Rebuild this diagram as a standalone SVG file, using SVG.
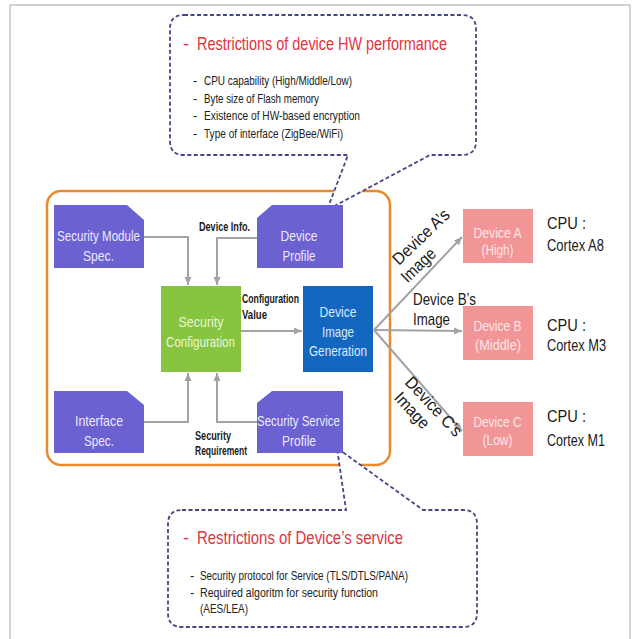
<svg xmlns="http://www.w3.org/2000/svg" width="633" height="639" viewBox="0 0 633 639">
  <style>
    text { font-family: "Liberation Sans", Arial, sans-serif; }
    .node-p { fill: #6b61d1; }
    .t-light { fill: #ebe9ff; font-size: 15px; text-anchor: middle; }
    .t-green { fill: #eaf6d8; font-size: 15px; text-anchor: middle; }
    .t-blue { fill: #dce9ff; font-size: 15px; text-anchor: middle; }
    .t-pink { fill: #fde6e6; font-size: 14px; text-anchor: middle; }
    .lbl { fill: #1a1a1a; font-size: 13px; font-weight: bold; }
    .cpu { fill: #1a1a1a; font-size: 17px; }
    .fan { fill: #1a1a1a; font-size: 17px; }
    .title { fill: #e0343f; font-size: 18px; }
    .bul { fill: #222222; font-size: 13px; }
    .conn { fill: none; stroke: #a3a3a3; stroke-width: 2; }
    .callout { fill: #ffffff; stroke: #45458a; stroke-width: 1.8; stroke-dasharray: 4 2.5; }
  </style>
  <defs>
    <marker id="arr" markerUnits="userSpaceOnUse" markerWidth="9" markerHeight="8" refX="8" refY="4" orient="auto">
      <path d="M0,0.5 L8,4 L0,7.5 Z" fill="#a3a3a3"/>
    </marker>
  </defs>

  <rect x="0" y="0" width="633" height="639" fill="#ffffff"/>
  <rect x="10" y="5" width="620" height="645" fill="none" stroke="#c4c4c4" stroke-width="1.5"/>

  <!-- Container -->
  <g id="container">
    <rect x="47" y="191" width="343" height="274" rx="14" ry="14" fill="#ffffff" stroke="#e8892c" stroke-width="2.5"/>
  </g>

  <!-- Connectors -->
  <g id="connectors">
    <path class="conn" d="M144,237 H188 V285" marker-end="url(#arr)"/>
    <path class="conn" d="M257,238 H217 V285" marker-end="url(#arr)"/>
    <path class="conn" d="M144,422 H188 V373" marker-end="url(#arr)"/>
    <path class="conn" d="M257,422 H217 V373" marker-end="url(#arr)"/>
    <path class="conn" d="M241,331 H302" marker-end="url(#arr)"/>
    <path class="conn" d="M374,330 L462,237" marker-end="url(#arr)"/>
    <path class="conn" d="M374,330 L462,331" marker-end="url(#arr)"/>
    <path class="conn" d="M374,330 L462,431" marker-end="url(#arr)"/>
  </g>

  <!-- Callouts -->
  <g id="callout-hw">
    <path class="callout" d="M184,15 H462 Q476,15 476,29 V141 Q476,155 462,155 H430 L327,210 L348,155 H184 Q170,155 170,141 V29 Q170,15 184,15 Z"/>
    <text class="title" x="183" y="50">-</text>
    <text class="title" x="197" y="50" textLength="250" lengthAdjust="spacingAndGlyphs">Restrictions of device HW  performance</text>
    <text class="bul" x="193" y="85">-</text>
    <text class="bul" x="204" y="85" textLength="148" lengthAdjust="spacingAndGlyphs">CPU capability (High/Middle/Low)</text>
    <text class="bul" x="193" y="102.5">-</text>
    <text class="bul" x="204" y="102.5" textLength="115" lengthAdjust="spacingAndGlyphs">Byte size of Flash memory</text>
    <text class="bul" x="193" y="120">-</text>
    <text class="bul" x="204" y="120" textLength="156" lengthAdjust="spacingAndGlyphs">Existence of HW-based encryption</text>
    <text class="bul" x="193" y="137.5">-</text>
    <text class="bul" x="204" y="137.5" textLength="139" lengthAdjust="spacingAndGlyphs">Type of interface (ZigBee/WiFi)</text>
  </g>

  <g id="callout-service">
    <path class="callout" d="M182,510 H346 L337,448 L423,510 H463 Q477,510 477,524 V613 Q477,627 463,627 H182 Q168,627 168,613 V524 Q168,510 182,510 Z"/>
    <text class="title" x="183" y="544">-</text>
    <text class="title" x="197" y="544" textLength="206" lengthAdjust="spacingAndGlyphs">Restrictions of Device’s service</text>
    <text class="bul" x="190" y="580">-</text>
    <text class="bul" x="200" y="580" textLength="208" lengthAdjust="spacingAndGlyphs">Security protocol for Service (TLS/DTLS/PANA)</text>
    <text class="bul" x="190" y="596.5">-</text>
    <text class="bul" x="200" y="596.5" textLength="178" lengthAdjust="spacingAndGlyphs">Required algoritm for security function</text>
    <text class="bul" x="200" y="612.5" textLength="48" lengthAdjust="spacingAndGlyphs">(AES/LEA)</text>
  </g>

  <!-- Nodes -->
  <g id="security-module-spec">
    <path class="node-p" d="M54,205 H127 L144,220 V268 H54 Z"/>
    <text class="t-light" x="98.5" y="241" textLength="83" lengthAdjust="spacingAndGlyphs">Security Module</text>
    <text class="t-light" x="98.5" y="261" textLength="31" lengthAdjust="spacingAndGlyphs">Spec.</text>
  </g>

  <g id="device-profile">
    <path class="node-p" d="M272,205 H343 V268 H257 V218 Z"/>
    <text class="t-light" x="299" y="241" textLength="37" lengthAdjust="spacingAndGlyphs">Device</text>
    <text class="t-light" x="299" y="261" textLength="33" lengthAdjust="spacingAndGlyphs">Profile</text>
  </g>

  <g id="interface-spec">
    <path class="node-p" d="M54,391 H127 L144,405 V453 H54 Z"/>
    <text class="t-light" x="99" y="425.5" textLength="48" lengthAdjust="spacingAndGlyphs">Interface</text>
    <text class="t-light" x="99" y="445.5" textLength="30" lengthAdjust="spacingAndGlyphs">Spec.</text>
  </g>

  <g id="security-service-profile">
    <path class="node-p" d="M272,391 H343 V453 H257 V403 Z"/>
    <text class="t-light" x="298.5" y="426" textLength="83" lengthAdjust="spacingAndGlyphs">Security Service</text>
    <text class="t-light" x="299" y="446" textLength="34" lengthAdjust="spacingAndGlyphs">Profile</text>
  </g>

  <g id="security-configuration">
    <rect x="161" y="286" width="80" height="86" fill="#87c540"/>
    <text class="t-green" x="201" y="327" textLength="45" lengthAdjust="spacingAndGlyphs">Security</text>
    <text class="t-green" x="200.5" y="346.5" textLength="69" lengthAdjust="spacingAndGlyphs">Configuration</text>
  </g>

  <g id="device-image-generation">
    <rect x="303" y="286" width="70" height="86" fill="#1467bf"/>
    <text class="t-blue" x="338" y="317" textLength="37" lengthAdjust="spacingAndGlyphs">Device</text>
    <text class="t-blue" x="338" y="336.5" textLength="32" lengthAdjust="spacingAndGlyphs">Image</text>
    <text class="t-blue" x="338" y="355.5" textLength="58" lengthAdjust="spacingAndGlyphs">Generation</text>
  </g>

  <g id="device-a">
    <rect x="463" y="209" width="70" height="54" fill="#f29596"/>
    <text class="t-pink" x="497.5" y="238" textLength="48" lengthAdjust="spacingAndGlyphs">Device A</text>
    <text class="t-pink" x="497.5" y="255" textLength="32" lengthAdjust="spacingAndGlyphs">(High)</text>
  </g>

  <g id="device-b">
    <rect x="463" y="306" width="70" height="54" fill="#f29596"/>
    <text class="t-pink" x="497.5" y="331" textLength="48" lengthAdjust="spacingAndGlyphs">Device B</text>
    <text class="t-pink" x="498" y="350" textLength="46" lengthAdjust="spacingAndGlyphs">(Middle)</text>
  </g>

  <g id="device-c">
    <rect x="463" y="402" width="70" height="54" fill="#f29596"/>
    <text class="t-pink" x="497.5" y="427" textLength="48" lengthAdjust="spacingAndGlyphs">Device C</text>
    <text class="t-pink" x="497.5" y="445" textLength="30" lengthAdjust="spacingAndGlyphs">(Low)</text>
  </g>

  <!-- Labels -->
  <g id="labels">
    <text class="lbl" x="199" y="231" textLength="51" lengthAdjust="spacingAndGlyphs">Device Info.</text>
    <text class="lbl" x="242" y="302.5" textLength="57" lengthAdjust="spacingAndGlyphs">Configuration</text>
    <text class="lbl" x="242" y="319" textLength="25" lengthAdjust="spacingAndGlyphs">Value</text>
    <text class="lbl" x="195" y="439.5" textLength="36" lengthAdjust="spacingAndGlyphs">Security</text>
    <text class="lbl" x="195" y="454.5" textLength="52" lengthAdjust="spacingAndGlyphs">Requirement</text>

    <g transform="translate(399,266) rotate(-44)">
      <text class="fan" x="0" y="0" textLength="72" lengthAdjust="spacingAndGlyphs">Device A’s</text>
      <text class="fan" x="-6" y="18.5" textLength="41" lengthAdjust="spacingAndGlyphs">Image</text>
    </g>
    <text class="fan" x="413" y="304.5" textLength="63" lengthAdjust="spacingAndGlyphs">Device B’s</text>
    <text class="fan" x="413" y="325" textLength="37" lengthAdjust="spacingAndGlyphs">Image</text>
    <g transform="translate(404,383) rotate(47)">
      <text class="fan" x="0" y="0" textLength="75" lengthAdjust="spacingAndGlyphs">Device C’s</text>
      <text class="fan" x="4" y="18.5" textLength="43" lengthAdjust="spacingAndGlyphs">Image</text>
    </g>

    <text class="cpu" x="547" y="228.5" textLength="39" lengthAdjust="spacingAndGlyphs">CPU :</text>
    <text class="cpu" x="547" y="250.5" textLength="57" lengthAdjust="spacingAndGlyphs">Cortex A8</text>
    <text class="cpu" x="547" y="330.5" textLength="39" lengthAdjust="spacingAndGlyphs">CPU :</text>
    <text class="cpu" x="547" y="350.5" textLength="59" lengthAdjust="spacingAndGlyphs">Cortex M3</text>
    <text class="cpu" x="547" y="422" textLength="39" lengthAdjust="spacingAndGlyphs">CPU :</text>
    <text class="cpu" x="547" y="445.5" textLength="58" lengthAdjust="spacingAndGlyphs">Cortex M1</text>
  </g>
</svg>
